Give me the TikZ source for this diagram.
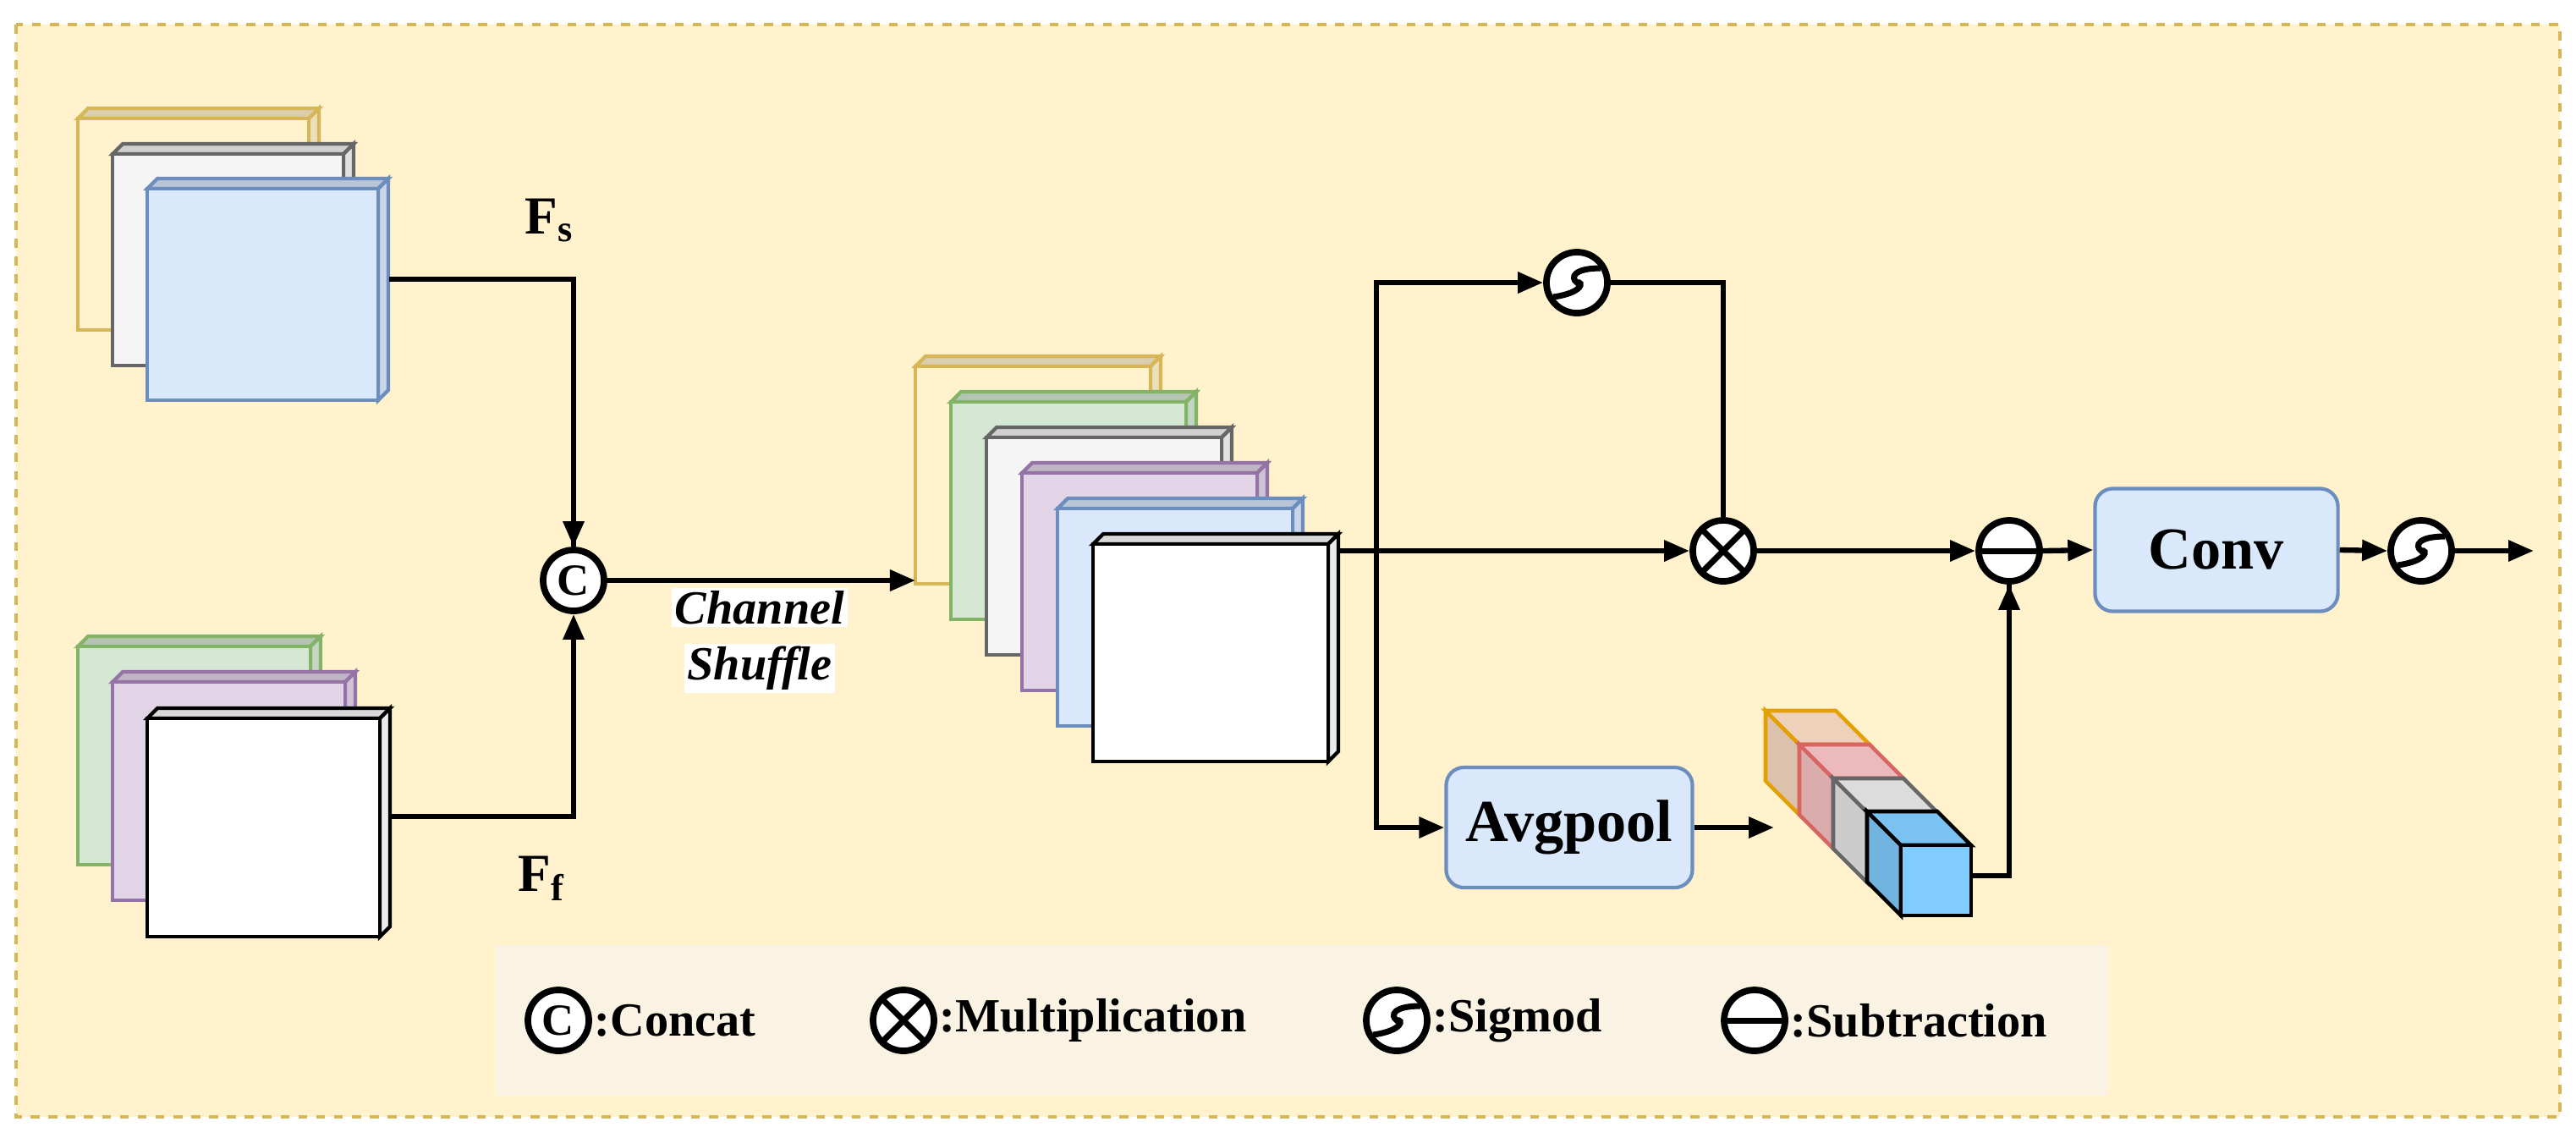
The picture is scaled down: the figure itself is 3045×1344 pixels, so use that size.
\documentclass[tikz,border=0pt]{standalone}
\usepackage{fontspec}
\setmainfont{Liberation Serif}
\usetikzlibrary{arrows.meta,calc}
\definecolor{bgY}{HTML}{FFF2CC}
\definecolor{bdY}{HTML}{D6B656}
\definecolor{fGr}{HTML}{F5F5F5}\definecolor{sGr}{HTML}{666666}
\definecolor{fBl}{HTML}{DAE8FC}\definecolor{sBl}{HTML}{6C8EBF}
\definecolor{fGn}{HTML}{D5E8D4}\definecolor{sGn}{HTML}{82B366}
\definecolor{fPu}{HTML}{E1D5E7}\definecolor{sPu}{HTML}{9673A6}
\definecolor{legbg}{HTML}{FAF3E3}
\definecolor{cOr}{HTML}{FADCC4}\definecolor{sOr}{HTML}{E3A000}
\definecolor{cRd}{HTML}{F8C4C4}\definecolor{sRd}{HTML}{D86464}
\definecolor{cGy}{HTML}{E8E8E8}
\definecolor{cBu}{HTML}{80CCFF}
\newcommand{\plate}[6]{% x y w h fill stroke
  \draw[#6,line width=1.2pt,fill=#5!85!black] (#1,#2)--++(12,-12)--++(#3,0)--++(-12,12)--cycle;
  \draw[#6,line width=1.2pt,fill=#5!92!black] (#1+#3,#2)--++(12,-12)--++(0,#4)--++(-12,12)--cycle;
  \draw[#6,line width=1.2pt,fill=#5] (#1,#2) rectangle ++(#3,#4);}
\newcommand{\cube}[5]{% x y size fill stroke (front top-left)
  \draw[#5,line width=1.3pt,fill=#4!88!black] (#1,#2)--++(-40,-40)--++(0,#3)--++(40,40)--cycle;
  \draw[#5,line width=1.3pt,fill=#4!95!black] (#1,#2)--++(-40,-40)--++(#3,0)--++(40,40)--cycle;
  \draw[#5,line width=1.3pt,fill=#4] (#1,#2) rectangle ++(#3,#3);}
\tikzset{
  op/.style={circle,draw=black,line width=2.2pt,fill=white,minimum size=0.72cm,inner sep=0pt},
  conn/.style={line width=1.8pt,-{Triangle[length=0.3cm,width=0.24cm]}},
  line/.style={line width=1.8pt},
  blk/.style={rounded corners=6pt,draw=sBl,line width=1.2pt,fill=fBl,font=\bfseries\fontsize{20}{22}\selectfont,inner sep=0pt},
  lab/.style={font=\bfseries\fontsize{16}{18}\selectfont,anchor=west,inner sep=0pt},
}
\newcommand{\sgl}[1]{\draw[line width=2pt] ($(#1)+(-0.28cm,-0.17cm)$) .. controls ($(#1)+(0.08cm,-0.12cm)$) and ($(#1)+(0.08cm,0.02cm)$) .. ($(#1)+(0cm,0cm)$) .. controls ($(#1)+(-0.08cm,0.06cm)$) and ($(#1)+(-0.04cm,0.17cm)$) .. ($(#1)+(0.28cm,0.17cm)$);}
\newcommand{\xgl}[1]{\draw[line width=2pt] ($(#1)+(-0.25cm,-0.25cm)$)--($(#1)+(0.25cm,0.25cm)$) ($(#1)+(-0.25cm,0.25cm)$)--($(#1)+(0.25cm,-0.25cm)$);}
\newcommand{\mgl}[1]{\draw[line width=2pt] ($(#1)+(-0.36cm,0cm)$)--($(#1)+(0.36cm,0cm)$);}
\begin{document}
\begin{tikzpicture}[x=0.01cm,y=-0.01cm]
\useasboundingbox (0,0) rectangle (3045,1344);
\draw[bdY,dashed,line width=1.2pt,fill=bgY] (19,29) rectangle (3026,1320);
% top-left stack
\plate{92}{140}{273}{250}{bgY}{bdY}
\plate{133}{182}{273}{250}{fGr}{sGr}
\plate{174}{223}{273}{250}{fBl}{sBl}
\coordinate (fs) at (460,330);
% bottom-left stack
\plate{92}{764}{275}{258}{fGn}{sGn}
\plate{133}{806}{275}{258}{fPu}{sPu}
\plate{174}{849}{275}{258}{white}{black}
\coordinate (ff) at (462,965);
% concat
\node[op,font=\bfseries\fontsize{15}{15}\selectfont] (cc) at (678,686) {C};
\draw[line] (fs) -| (cc.north) ;
\draw[conn] (678,600) -- (cc.north);
\draw[line] (ff) -| (678,760);
\draw[conn] (678,760) -- (cc.south);
\node[font=\bfseries\fontsize{18}{20}\selectfont,anchor=south west] at (608,298) {F\textsubscript{s}};
\node[font=\bfseries\fontsize{18}{20}\selectfont,anchor=north west] at (600,1000) {F\textsubscript{f}};
% middle stack
\plate{1082}{433}{278}{257}{bgY}{bdY}
\plate{1124}{475}{278}{257}{fGn}{sGn}
\plate{1166}{517}{278}{257}{fGr}{sGr}
\plate{1208}{559}{278}{257}{fPu}{sPu}
\plate{1250}{601}{278}{257}{fBl}{sBl}
\plate{1292}{643}{278}{257}{white}{black}
\coordinate (ms) at (1082,686);
\draw[conn] (cc.east) -- (ms);
\node[fill=white,inner sep=1pt,font=\bfseries\itshape\fontsize{16}{18}\selectfont] at (898,718) {Channel};
\node[fill=white,inner sep=1pt,font=\bfseries\itshape\fontsize{16}{18}\selectfont] at (898,790) {Shuffle};
\coordinate (mo) at (1584,651);
\coordinate (br) at (1627,651);
% operators right
\node[op] (s1) at (1864,334) {}; \sgl{s1}
\node[op] (mul) at (2037,651) {}; \xgl{mul}
\node[op] (sub) at (2375,651) {}; \mgl{sub}
\node[blk,minimum width=2.87cm,minimum height=1.45cm] (conv) at (2620,650) {Conv};
\node[op] (s2) at (2862,651) {}; \sgl{s2}
\coordinate (out) at (2995,651);
\node[blk,minimum width=2.91cm,minimum height=1.42cm] (avg) at (1855,978) {Avgpool};
\draw[line] (mo) -- (br);
\draw[conn] (br) |- (s1.west);
\draw[conn] (br) -- (mul.west);
\draw[conn] (br) |- (avg.west);
\draw[line] (s1.east) -| (mul.north);
\draw[conn] (mul.east) -- (sub.west);
\draw[conn] (sub.east) -- (conv.west);
\draw[conn] (conv.east) -- (s2.west);
\draw[conn] (s2.east) -- (out);
% cuboids
\cube{2127}{880}{83}{cOr}{sOr}
\cube{2167}{920}{83}{cRd}{sRd}
\cube{2207}{960}{83}{cGy}{sGr}
\cube{2247}{999}{83}{cBu}{black}
\coordinate (cb) at (2330,1035);
\coordinate (ca) at (2097,978);
\draw[conn] (avg.east) -- (ca);
\draw[line] (cb) -| (sub.south);
\draw[conn] (2375,800) -- (sub.south);
% legend
\fill[legbg] (586,1117) rectangle (2492,1295);
\node[op,font=\bfseries\fontsize{15}{15}\selectfont] (l1) at (660,1206) {C};
\node[lab] at (702,1206) {:Concat};
\node[op] (l2) at (1068,1206) {}; \xgl{l2}
\node[lab] at (1110,1206) {:Multiplication};
\node[op] (l3) at (1651,1206) {}; \sgl{l3}
\node[lab] at (1693,1206) {:Sigmod};
\node[op] (l4) at (2074,1206) {}; \mgl{l4}
\node[lab] at (2116,1206) {:Subtraction};
\end{tikzpicture}
\end{document}
